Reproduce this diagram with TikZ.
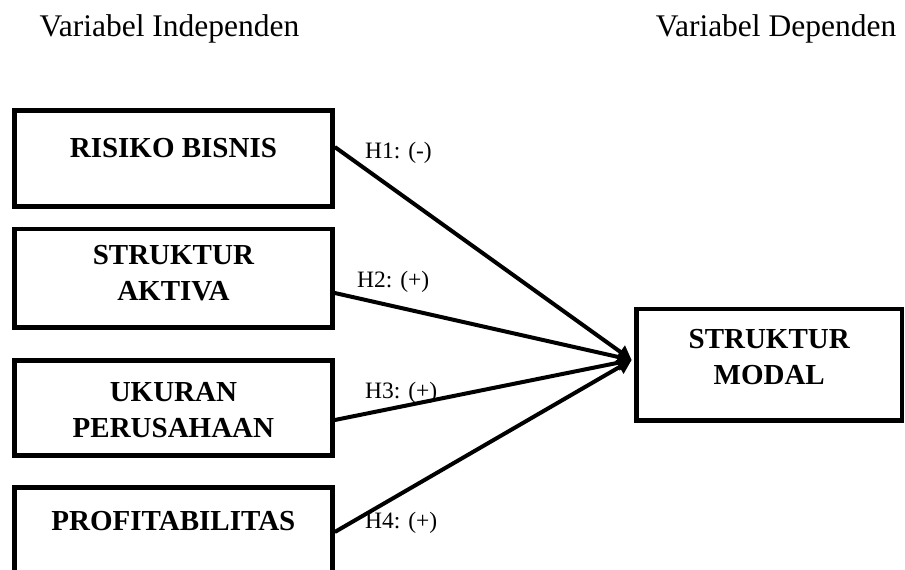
\documentclass[tikz,border=0pt]{standalone}
\usepackage{fontspec}
\setmainfont{Liberation Serif}
\usetikzlibrary{arrows.meta}
\begin{document}
\begin{tikzpicture}[x=1pt,y=-1pt,
  varbox/.style={draw=black,line width=4.6pt,inner sep=0pt},
  boxtext/.style={font=\fontsize{29}{36}\selectfont\bfseries,align=center,anchor=base,inner sep=0pt},
  head/.style={font=\fontsize{31.5}{36}\selectfont,anchor=base,inner sep=0pt},
  hyp/.style={font=\fontsize{23.5}{28}\selectfont,anchor=base west,inner sep=0pt},
  link/.style={line width=4pt,-{Triangle[length=14pt,width=15pt]}}]
\useasboundingbox (0,0) rectangle (905,570);
\clip (0,0) rectangle (905,570);
% headers
\node[head] (hi) at (169.5,36.7) {Variabel Independen};
\node[head] (hd) at (776,36.7) {Variabel Dependen};
% boxes (centre line of border)
\node[varbox,minimum width=318.2pt,minimum height=95.9pt] (rb) at (173.4,158.7) {};
\node[varbox,minimum width=318.2pt,minimum height=98.5pt] (sa) at (173.4,278.2) {};
\node[varbox,minimum width=318.2pt,minimum height=95.2pt] (up) at (173.4,408.1) {};
\node[varbox,minimum width=318.2pt,minimum height=97pt] (pr) at (173.4,536) {};
\node[varbox,minimum width=265.5pt,minimum height=111.5pt] (sm) at (769.2,364.7) {};
% box texts (anchor = baseline of last line)
\node[boxtext] (trb) at (173.4,157) {RISIKO BISNIS};
\node[boxtext] (tsa) at (173.4,300) {STRUKTUR\\AKTIVA};
\node[boxtext] (tup) at (173.4,437) {UKURAN\\PERUSAHAAN};
\node[boxtext] (tpr) at (173.4,530) {PROFITABILITAS};
\node[boxtext] (tsm) at (769.2,384) {STRUKTUR\\MODAL};
% connectors
\coordinate (tip) at ([xshift=-2.5pt,yshift=4.7pt]sm.west);
\draw[link] ([yshift=11.7pt]rb.east) -- (tip);
\draw[link] ([yshift=-14.8pt]sa.east) -- (tip);
\draw[link] ([yshift=-11.9pt]up.east) -- (tip);
\draw[link] ([yshift=4pt]pr.east) -- (tip);
% hypothesis labels
\node[hyp] (h1) at (365,158) {H1: (-)};
\node[hyp] (h2) at (357,287) {H2: (+)};
\node[hyp] (h3) at (365,398) {H3: (+)};
\node[hyp] (h4) at (365,528) {H4: (+)};
\end{tikzpicture}
\end{document}
